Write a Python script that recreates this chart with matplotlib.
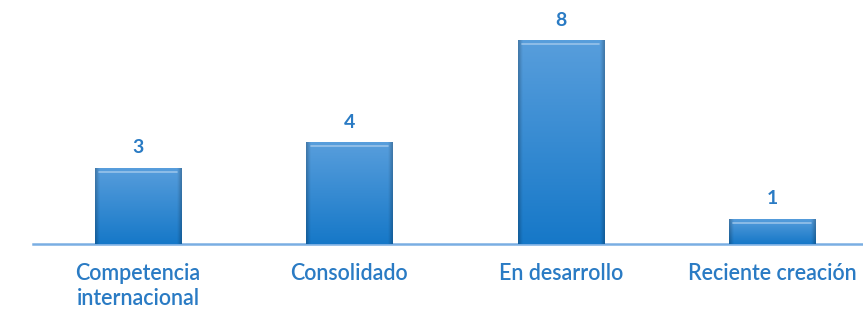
import numpy as np
import matplotlib
matplotlib.use("Agg")
import matplotlib.pyplot as plt
import matplotlib.transforms as mtrans

categories = ["Competencia\ninternacional", "Consolidado", "En desarrollo", "Reciente creación"]
values = [3, 4, 8, 1]

txt_color = "#2a7bc4"
line_color = "#7aaee3"

plt.rcParams["font.family"] = ["Lato", "DejaVu Sans"]

fig = plt.figure(figsize=(8.63, 3.13), dpi=100)
ax = fig.add_axes([33 / 863, (313 - 244) / 313, 1 - 33 / 863, (244 - 14.5) / 313])

x = np.arange(len(values))
w = 0.407

# gradient image: lighter on top, darker at bottom and side edges
ny, nx = 100, 60
vert = np.linspace(0, 1, ny)[:, None]          # 0 = bottom, 1 = top
top_c = np.array([88, 158, 220]) / 255
bot_c = np.array([22, 120, 200]) / 255
img = bot_c + (top_c - bot_c) * vert[..., None]
img = np.repeat(img, nx, axis=1)
edge = np.ones(nx)
edge[:3] = [0.78, 0.86, 0.94]
edge[-3:] = [0.94, 0.86, 0.78]
img = img * edge[None, :, None]
img = np.clip(img, 0, 1)

bars = ax.bar(x, values, width=w, color="#3d8fd6", zorder=2)
for b, v in zip(bars, values):
    im = ax.imshow(img, extent=(b.get_x(), b.get_x() + b.get_width(), 0, v),
                   origin="lower", aspect="auto", zorder=3, interpolation="bilinear")
    im.set_clip_path(b)
    # soft highlight near the top
    off = mtrans.offset_copy(ax.transData, fig=fig, x=0, y=-4, units="dots")
    ax.plot([b.get_x() + b.get_width() * 0.05, b.get_x() + b.get_width() * 0.95], [v, v],
            color="#a9cdee", lw=1.2, alpha=0.8, transform=off, zorder=4,
            solid_capstyle="round")
    ax.annotate(str(v), (b.get_x() + b.get_width() / 2, v), xytext=(0, 8),
                textcoords="offset points", ha="center", va="bottom",
                fontsize=14, fontweight="bold", color=txt_color)

ax.set_xlim(-0.497, 3.43)
ax.set_ylim(0, 9)
ax.set_xticks(x)
ax.set_xticklabels(categories, fontsize=15.5, fontweight="semibold", color=txt_color,
                   linespacing=1.2)
ax.tick_params(axis="x", length=0, pad=14)
ax.set_yticks([])
for s in ["top", "right", "left"]:
    ax.spines[s].set_visible(False)
ax.spines["bottom"].set_color(line_color)
ax.spines["bottom"].set_linewidth(1.8)
ax.spines["bottom"].set_zorder(1)

fig.savefig("out.png", dpi=100)
